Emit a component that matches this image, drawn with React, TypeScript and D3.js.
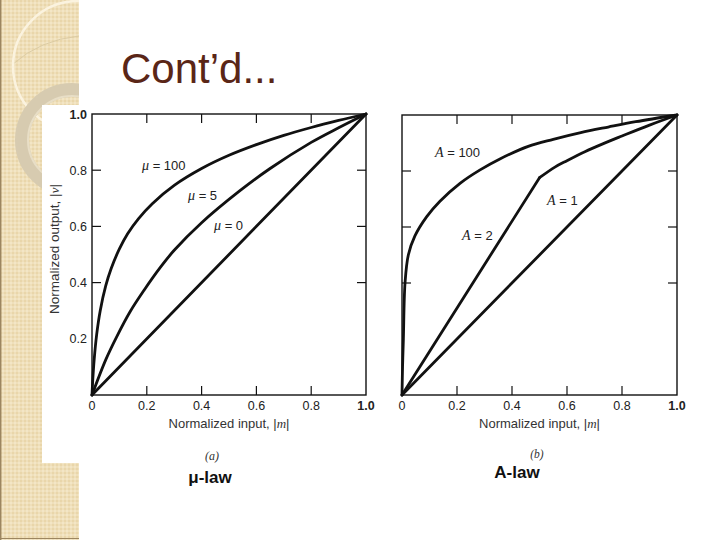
import React from "react";
import * as d3 from "d3";

// ---- data ----
const xTickValues = [0, 0.2, 0.4, 0.6, 0.8, 1.0];
const xTickLabels = ["0", "0.2", "0.4", "0.6", "0.8", "1.0"];
const yTickValues = [0.2, 0.4, 0.6, 0.8, 1.0];
const yTickLabels = ["0.2", "0.4", "0.6", "0.8", "1.0"];
const innerTickX = [0.2, 0.4, 0.6, 0.8];
const innerTickY = [0.4, 0.6, 0.8];

// mu-law curves
const mu100X = [0, 0.003, 0.008, 0.017, 0.03, 0.05, 0.07, 0.1, 0.13, 0.17, 0.22, 0.3, 0.4, 0.5, 0.6, 0.7, 0.8, 0.9, 1.0];
const mu100Y = [0, 0.057, 0.127, 0.215, 0.3, 0.388, 0.45, 0.52, 0.574, 0.628, 0.681, 0.746, 0.806, 0.853, 0.891, 0.924, 0.952, 0.977, 1.0];
const mu5X = [0, 0.05, 0.09, 0.14, 0.19, 0.25, 0.3, 0.4, 0.54, 0.65, 0.8, 0.9, 1.0];
const mu5Y = [0, 0.125, 0.207, 0.298, 0.373, 0.455, 0.515, 0.613, 0.727, 0.806, 0.899, 0.951, 1.0];
const mu0X = [0, 1.0];
const mu0Y = [0, 1.0];

// A-law curves
const a100X = [0, 0.002, 0.005, 0.011, 0.023, 0.047, 0.09, 0.138, 0.211, 0.284, 0.356, 0.459, 0.55, 0.65, 0.75, 0.85, 1.0];
const a100Y = [0, 0.1, 0.2, 0.4, 0.5, 0.568, 0.637, 0.692, 0.756, 0.804, 0.843, 0.888, 0.913, 0.937, 0.957, 0.976, 1.0];
const a2LinX = [0, 0.5];
const a2LinY = [0, 0.776];
const a2LogX = [0.5, 0.556, 0.6, 0.665, 0.73, 0.8, 0.9, 1.0];
const a2LogY = [0.776, 0.814, 0.837, 0.869, 0.897, 0.925, 0.964, 1.0];
const a1X = [0, 1.0];
const a1Y = [0, 1.0];

const SANS = "'Liberation Sans', Arial, Helvetica, sans-serif";
const SERIF = "'Liberation Serif', 'Times New Roman', serif";

type Pt = [number, number];
const zip = (xs: number[], ys: number[]): Pt[] => xs.map((x, i) => [x, ys[i]]);

function Panel({ x0, x1, y0, y1, curves, showYLabels, children }: any) {
  const xs = d3.scaleLinear().domain([0, 1]).range([x0, x1]);
  const ys = d3.scaleLinear().domain([0, 1]).range([y0, y1]);
  const smooth = d3.line<Pt>().x((d) => xs(d[0])).y((d) => ys(d[1])).curve(d3.curveCatmullRom.alpha(0.5));
  const straight = d3.line<Pt>().x((d) => xs(d[0])).y((d) => ys(d[1]));
  const tl = 9;
  return (
    <g>
      {curves.map((c: any, i: number) => (
        <path key={i} d={(c.smooth ? smooth : straight)(c.pts) || ""} fill="none" stroke="#111" strokeWidth={2.8} strokeLinejoin="round" strokeLinecap="round" />
      ))}
      <rect x={x0} y={y1} width={x1 - x0} height={y0 - y1} fill="none" stroke="#111" strokeWidth={1.4} />
      {innerTickX.map((t) => (
        <g key={"tx" + t}>
          <line x1={xs(t)} x2={xs(t)} y1={y0} y2={y0 - tl} stroke="#111" strokeWidth={1.2} />
          <line x1={xs(t)} x2={xs(t)} y1={y1} y2={y1 + tl} stroke="#111" strokeWidth={1.2} />
        </g>
      ))}
      {innerTickY.map((t) => (
        <g key={"ty" + t}>
          <line x1={x0} x2={x0 + tl} y1={ys(t)} y2={ys(t)} stroke="#111" strokeWidth={1.2} />
          <line x1={x1} x2={x1 - tl} y1={ys(t)} y2={ys(t)} stroke="#111" strokeWidth={1.2} />
        </g>
      ))}
      {xTickValues.map((t, i) => (
        <text key={"xl" + t} x={xs(t)} y={y0 + 14.5} textAnchor="middle" fontFamily={SANS} fontSize={12.5} fill="#222" fontWeight={xTickLabels[i] === "1.0" ? 700 : 400}>
          {xTickLabels[i]}
        </text>
      ))}
      {showYLabels &&
        yTickValues.map((t, i) => (
          <text key={"yl" + t} x={x0 - 5} y={ys(t) + 4.5} textAnchor="end" fontFamily={SANS} fontSize={12.5} fill="#222" fontWeight={yTickLabels[i] === "1.0" ? 700 : 400}>
            {yTickLabels[i]}
          </text>
        ))}
      <text x={(x0 + x1) / 2} y={y0 + 33} textAnchor="middle" fontFamily={SANS} fontSize={13} fill="#333">
        Normalized input, |<tspan fontFamily={SERIF} fontStyle="italic">m</tspan>|
      </text>
      {children}
    </g>
  );
}

export default function App() {
  const L = { x0: 92, x1: 366, y0: 395, y1: 114 };
  const R = { x0: 402, x1: 677, y0: 395, y1: 115 };
  const leftCurves = [
    { pts: zip(mu100X, mu100Y), smooth: true },
    { pts: zip(mu5X, mu5Y), smooth: true },
    { pts: zip(mu0X, mu0Y), smooth: false },
  ];
  const rightCurves = [
    { pts: zip(a100X, a100Y), smooth: true },
    { pts: zip(a2LinX, a2LinY), smooth: false },
    { pts: zip(a2LogX, a2LogY), smooth: true },
    { pts: zip(a1X, a1Y), smooth: false },
  ];
  const lab = (x: number, y: number, sym: string, rest: string, key: string) => (
    <text key={key} x={x} y={y} fontFamily={SANS} fontSize={13} fill="#222">
      <tspan fontFamily={SERIF} fontStyle="italic" fontSize={14}>{sym}</tspan>
      {rest}
    </text>
  );
  return (
    <div style={{ position: "absolute", left: 0, top: 0 }}>
      <svg width={720} height={540} style={{ display: "block" }}>
        <defs>
          <pattern id="weave" width={4} height={4} patternUnits="userSpaceOnUse">
            <rect width={4} height={4} fill="#efdfba" />
            <rect width={2} height={2} fill="#e9d6aa" />
            <rect x={2} y={2} width={2} height={2} fill="#f3e6c6" />
          </pattern>
          <clipPath id="band">
            <rect x={0} y={0} width={79} height={540} />
          </clipPath>
        </defs>
        <rect width={720} height={540} fill="#ffffff" />
        {/* decorative left band */}
        <rect x={0} y={0} width={79} height={540} fill="url(#weave)" />
        <g clipPath="url(#band)">
          <path d="M 13 64 Q 40 40 79 36" fill="none" stroke="#d9c9a2" strokeWidth={0.9} />
          <circle cx={78} cy={66} r={65} fill="none" stroke="#fbf3df" strokeWidth={2.5} />
          <circle cx={72} cy={140} r={50} fill="none" stroke="#d7cbb0" strokeWidth={14} />
          <circle cx={72} cy={140} r={44} fill="none" stroke="#e8dec6" strokeWidth={2} />
        </g>
        <line x1={0.7} x2={0.7} y1={0} y2={540} stroke="#9c8660" strokeWidth={1.4} />
        <line x1={0} x2={79} y1={538.5} y2={538.5} stroke="#9c8660" strokeWidth={1.2} />
        {/* white figure area */}
        <rect x={42} y={105} width={660} height={358} fill="#ffffff" />
        {/* title */}
        <text x={121} y={83} fontFamily={SANS} fontSize={42} fill="#5a2617">Cont’d...</text>

        <Panel {...L} curves={leftCurves} showYLabels>
          {lab(142, 170, "μ", " = 100", "m100")}
          {lab(188, 200, "μ", " = 5", "m5")}
          {lab(214, 230, "μ", " = 0", "m0")}
          <text transform={`translate(59,249) rotate(-90)`} textAnchor="middle" fontFamily={SANS} fontSize={13.5} fill="#333">
            Normalized output, |<tspan fontFamily={SERIF} fontStyle="italic">v</tspan>|
          </text>
        </Panel>
        <Panel {...R} curves={rightCurves} showYLabels={false}>
          {lab(435, 157, "A", " = 100", "a100")}
          {lab(547, 205, "A", " = 1", "a1")}
          {lab(462, 240, "A", " = 2", "a2")}
        </Panel>

        {/* captions */}
        <text x={212} y={460} textAnchor="middle" fontFamily={SERIF} fontStyle="italic" fontSize={12} fill="#333">(a)</text>
        <text x={210} y={483} textAnchor="middle" fontFamily={SANS} fontWeight={700} fontSize={17} fill="#111">μ-law</text>
        <text x={537} y={458} textAnchor="middle" fontFamily={SERIF} fontStyle="italic" fontSize={11.5} fill="#333">(b)</text>
        <text x={517} y={478} textAnchor="middle" fontFamily={SANS} fontWeight={700} fontSize={17} fill="#111">A-law</text>
      </svg>
    </div>
  );
}
